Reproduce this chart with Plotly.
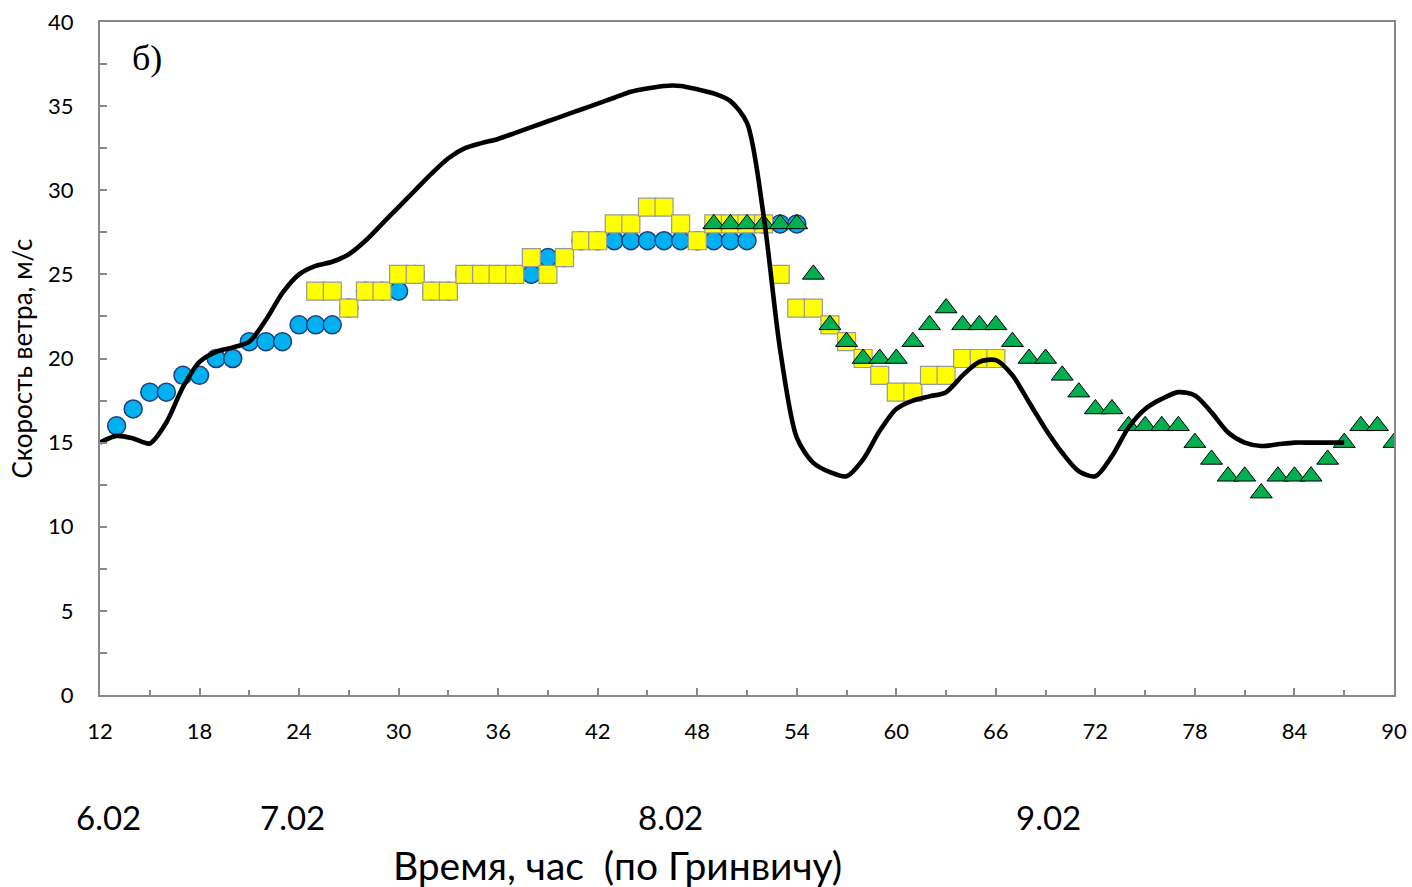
import plotly.graph_objects as go

# Blue circles
circ_x = list(range(13, 55))
circ_y = [16, 17, 18, 18, 19, 19, 20, 20, 21, 21, 21, 22, 22, 22, 23, 24, 24, 24, 25, 24,
          24, 25, 25, 25, 25, 25, 26, 26, 27, 27, 27, 27, 27, 27, 27, 27, 27, 27, 27, 28, 28, 28]

# Yellow squares
sq_x = list(range(25, 67))
sq_y = [24, 24, 23, 24, 24, 25, 25, 24, 24, 25, 25, 25, 25, 26, 25, 26, 27, 27, 28, 28,
        29, 29, 28, 27, 28, 28, 28, 28, 25, 23, 23, 22, 21, 20, 19, 18, 18, 19, 19, 20, 20, 20]

# Green triangles
tri_x = list(range(49, 91))
tri_y = [28, 28, 28, 28, 28, 28, 25, 22, 21, 20, 20, 20, 21, 22, 23, 22, 22, 22, 21, 20,
         20, 19, 18, 17, 17, 16, 16, 16, 16, 15, 14, 13, 13, 12, 13, 13, 13, 14, 15, 16, 16, 15]

# Black model line
line_x = list(range(12, 88))
line_y = [15.0, 15.4, 15.25, 14.95, 16.2, 18.3, 19.8, 20.4, 20.65, 21.0, 22.3, 23.9, 25.0, 25.5,
          25.75, 26.2, 27.0, 28.0, 29.0, 30.0, 31.0, 31.9, 32.5, 32.8, 33.05, 33.4, 33.75, 34.1,
          34.45, 34.8, 35.15, 35.5, 35.85, 36.05, 36.2, 36.2, 36.0, 35.75, 35.3, 34.0, 28.5, 20.5,
          15.3, 13.8, 13.25, 13.0, 14.0, 15.7, 17.0, 17.5, 17.75, 18.0, 19.0, 19.8, 19.9, 19.0,
          17.4, 15.8, 14.4, 13.3, 13.0, 14.2, 15.9, 17.0, 17.6, 18.0, 17.8, 16.8, 15.6, 15.0,
          14.8, 14.9, 15.0, 15.0, 15.0, 15.0]

x_ticks = [12, 18, 24, 30, 36, 42, 48, 54, 60, 66, 72, 78, 84, 90]
y_ticks = [0, 5, 10, 15, 20, 25, 30, 35, 40]

date_labels = ["6.02", "7.02", "8.02", "9.02"]
date_pos = [12.5, 23.6, 46.4, 69.2]

FONT = "Lato, Carlito, Calibri, sans-serif"

fig = go.Figure()
fig.add_trace(go.Scatter(x=circ_x, y=circ_y, mode="markers",
                         marker=dict(symbol="circle", size=18, color="#00B0F0",
                                     line=dict(color="#1F3E7A", width=1.5)),
                         showlegend=False))
fig.add_trace(go.Scatter(x=sq_x, y=sq_y, mode="markers",
                         marker=dict(symbol="square", size=18, color="#FFFF00",
                                     line=dict(color="#999999", width=1.2)),
                         showlegend=False))
fig.add_trace(go.Scatter(x=tri_x, y=tri_y, mode="markers",
                         marker=dict(symbol="triangle-up", size=19, color="#00B050",
                                     line=dict(color="#000000", width=1)),
                         showlegend=False))
fig.add_trace(go.Scatter(x=line_x, y=line_y, mode="lines",
                         line=dict(color="#000000", width=4.6, shape="spline", smoothing=0.8),
                         showlegend=False))

tick_font = dict(family=FONT, size=22, color="#000000")

fig.update_xaxes(range=[12, 90], tickvals=x_ticks, ticks="inside", ticklen=7,
                 tickcolor="#888888", tickwidth=1.5,
                 minor=dict(dtick=3, tick0=12, ticks="inside", ticklen=5,
                            tickcolor="#888888", tickwidth=1.5),
                 showline=True, linecolor="#888888", linewidth=2, mirror=True,
                 showgrid=False, zeroline=False, tickfont=tick_font,
                 ticklabelstandoff=16, automargin=False)
fig.update_yaxes(range=[0, 40], tickvals=y_ticks, ticks="inside", ticklen=7,
                 tickcolor="#888888", tickwidth=1.5,
                 minor=dict(dtick=2.5, tick0=0, ticks="inside", ticklen=7,
                            tickcolor="#888888", tickwidth=1.5),
                 showline=True, linecolor="#888888", linewidth=2, mirror=True,
                 showgrid=False, zeroline=False, tickfont=tick_font,
                 ticklabelstandoff=20, automargin=False,
                 title=dict(text="Скорость ветра, м/с", standoff=8,
                            font=dict(family=FONT, size=26, color="#000000")))

plot_top, plot_bottom = 22, 695
plot_left, plot_right = 100, 1394


def py(pix):
    return (plot_bottom - pix) / (plot_bottom - plot_top)


def px(pix):
    return 12 + (pix - plot_left) / (plot_right - plot_left) * 78


for lbl, pos in zip(date_labels, date_pos):
    fig.add_annotation(x=pos, y=py(817), xref="x", yref="paper", text=lbl,
                       showarrow=False, font=dict(family=FONT, size=33, color="#000000"),
                       xanchor="center", yanchor="middle")

fig.add_annotation(x=px(617), y=py(865), xref="x", yref="paper", showarrow=False,
                   text="Время, час \u00a0(по Гринвичу)",
                   font=dict(family=FONT, size=39, color="#000000"),
                   xanchor="center", yanchor="middle")

fig.add_annotation(x=px(147), y=py(58), xref="x", yref="paper",
                   showarrow=False, text="б)",
                   font=dict(family="Liberation Serif, Times New Roman, serif", size=36,
                             color="#000000"),
                   xanchor="center", yanchor="middle")

fig.update_layout(width=1412, height=887, autosize=False,
                  margin=dict(l=plot_left, r=1412 - plot_right, t=plot_top, b=887 - plot_bottom,
                              autoexpand=False),
                  paper_bgcolor="white", plot_bgcolor="white")

fig.write_html("out.html", config={"displayModeBar": False},
               post_script="document.body.style.margin='0';"
                           "document.body.style.overflow='hidden';"
                           "document.documentElement.style.overflow='hidden';")
